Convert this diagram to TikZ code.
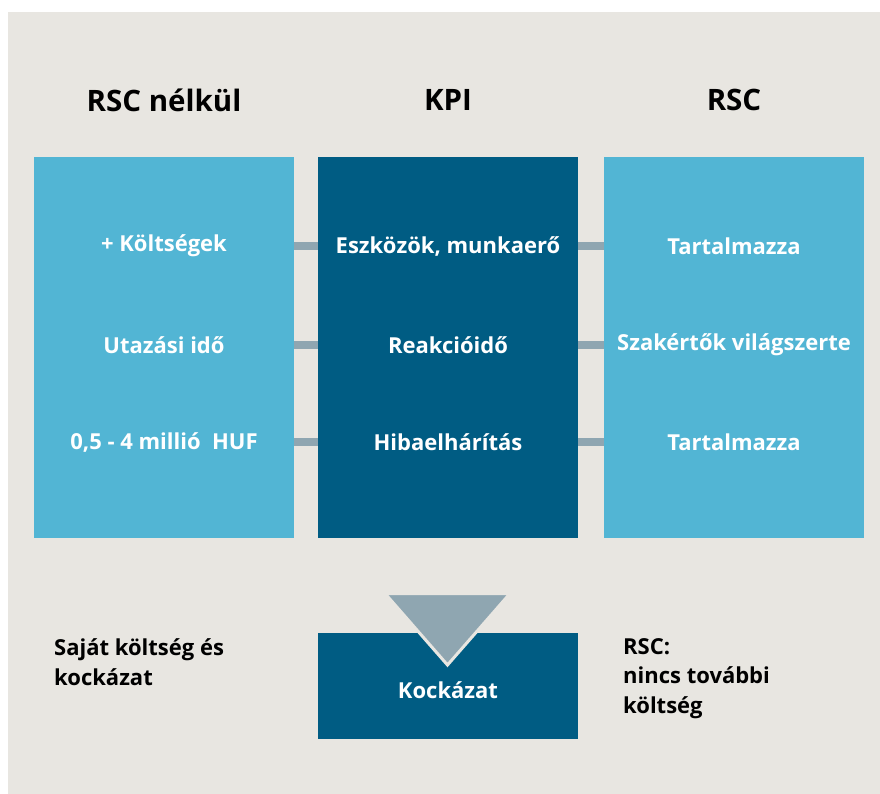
\documentclass[tikz,border=0pt]{standalone}
\usepackage{fontspec}
\setmainfont{Open Sans}
\definecolor{bg}{HTML}{E8E6E1}
\definecolor{lblue}{HTML}{52B5D4}
\definecolor{dblue}{HTML}{005C83}
\definecolor{conn}{HTML}{8FA6B1}
\begin{document}
\begin{tikzpicture}[x=1pt,y=-1pt,
  colbox/.style={draw=none,inner sep=0pt,anchor=north west},
  celltext/.style={text=white,font=\fontsize{22}{26}\selectfont\bfseries},
  heading/.style={text=black,font=\fontsize{29.5}{34}\selectfont\bfseries},
  note/.style={text=black,font=\fontsize{22}{30}\selectfont\bfseries,align=left,anchor=north west,inner sep=0pt},
  link/.style={draw=conn,line width=8pt}]
\useasboundingbox (0,0) rectangle (880,794);
\fill[white] (0,0) rectangle (880,794);
\fill[bg] (8,12) rectangle (880,794);
% headings
\node[heading] (h1) at (164,100) {RSC nélkül};
\node[heading] (h2) at (448,100) {KPI};
\node[heading] (h3) at (734,100) {RSC};
% columns
\node[colbox,fill=lblue,minimum width=260pt,minimum height=381pt] (L) at (34,157) {};
\node[colbox,fill=dblue,minimum width=260pt,minimum height=381pt] (M) at (318,157) {};
\node[colbox,fill=lblue,minimum width=260pt,minimum height=381pt] (R) at (604,157) {};
% cell texts
\node[celltext] (l1) at (164,246) {+ Költségek};
\node[celltext] (l2) at (164,345) {Utazási idő};
\node[celltext] (l3) at (164,442) {0,5 - 4 millió\ \ HUF};
\node[celltext] (m1) at (448,246) {Eszközök, munkaerő};
\node[celltext] (m2) at (448,345) {Reakcióidő};
\node[celltext] (m3) at (448,442) {Hibaelhárítás};
\node[celltext] (r1) at (734,246) {Tartalmazza};
\node[celltext] (r2) at (734,345) {Szakértők világszerte};
\node[celltext] (r3) at (734,442) {Tartalmazza};
% connectors
\foreach \i in {1,2,3}{
  \draw[link] (L.east |- l\i) -- (M.west |- m\i);
  \draw[link] (M.east |- m\i) -- (R.west |- r\i);
}
% bottom
\node[colbox,fill=dblue,minimum width=260pt,minimum height=106pt] (K) at (318,633) {};
\node[celltext] (k) at (448,690) {Kockázat};
\coordinate (t1) at (385,593.5);
\coordinate (t2) at (510,593.5);
\coordinate (t3) at (447.5,665);
\filldraw[fill=conn,draw=bg,line width=3pt,line join=miter] (t1) -- (t2) -- (t3) -- cycle;
\node[note] (n1) at (54,638) {Saját költség és\\kockázat};
\node[note,font=\fontsize{22}{29.5}\selectfont\bfseries] (n2) at (623,638) {RSC:\\nincs további\\költség};
\end{tikzpicture}
\end{document}
